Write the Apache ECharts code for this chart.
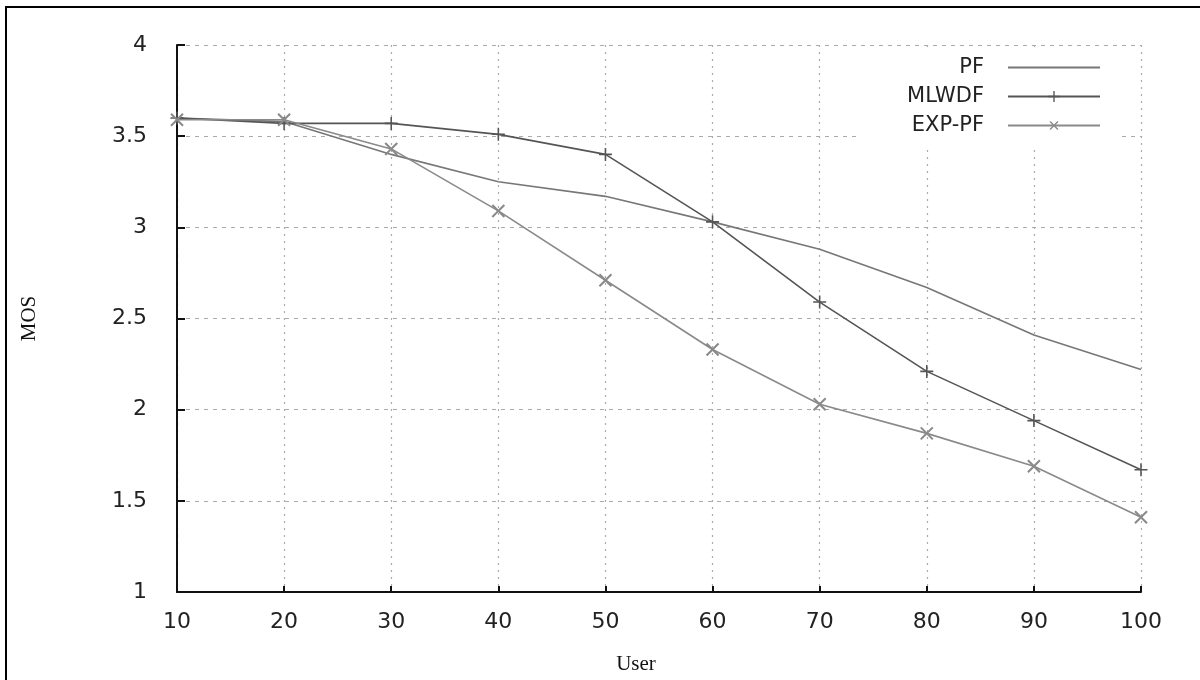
<!DOCTYPE html>
<html>
<head>
<meta charset="utf-8">
<script src="https://cdn.jsdelivr.net/npm/echarts@6/dist/echarts.min.js"></script>
<style>
  html, body { margin: 0; padding: 0; background: #fff; }
  #chart { width: 1200px; height: 680px; }
</style>
</head>
<body>
<div id="chart"></div>
<script>
// number of users on the x axis
const users = [10, 20, 30, 40, 50, 60, 70, 80, 90, 100];
// MOS values
const pf = [3.60, 3.58, 3.40, 3.25, 3.17, 3.03, 2.88, 2.67, 2.41, 2.22];
const mlwdf = [3.60, 3.57, 3.57, 3.51, 3.40, 3.03, 2.59, 2.21, 1.94, 1.67];
const expPf = [3.59, 3.59, 3.43, 3.09, 2.71, 2.33, 2.03, 1.87, 1.69, 1.41];

const pairs = vals => users.map((u, i) => [u, vals[i]]);

// thin filled plus, rotated 45deg it becomes the x marker
const plus = 'path://M4.4,0h1.2v4.4h4.4v1.2h-4.4v4.4h-1.2v-4.4h-4.4v-1.2h4.4z';

const chart = echarts.init(document.getElementById('chart'));

const legendBase = {
  orient: 'vertical',
  right: 94,
  itemWidth: 92,
  itemHeight: 14,
  itemGap: 0,
  align: 'right',
  textStyle: { fontFamily: 'DejaVu Sans', fontSize: 21, color: '#222', padding: [0, 19, 0, 0] },
  selectedMode: false
};

chart.setOption({
  animation: false,
  backgroundColor: '#fff',
  grid: { left: 177, right: 59, top: 45, bottom: 88 },
  legend: [
    Object.assign({}, legendBase, { top: 52, data: [{ name: 'PF', itemStyle: { opacity: 0 } }] }),
    Object.assign({}, legendBase, { top: 81, data: ['MLWDF'] }),
    Object.assign({}, legendBase, { top: 110, data: ['EXP-PF'] })
  ],
  graphic: [
    {
      type: 'rect',
      z: 1,
      shape: { x: 858, y: 47, width: 262, height: 101 },
      style: { fill: '#fff' }
    },
    {
      type: 'rect',
      z: 10,
      shape: { x: 6, y: 7, width: 1400, height: 800 },
      style: { fill: 'none', stroke: '#000', lineWidth: 2 }
    }
  ],
  xAxis: {
    type: 'value',
    min: 10,
    max: 100,
    interval: 10,
    name: 'User',
    nameLocation: 'middle',
    nameGap: 62,
    nameTextStyle: { fontFamily: 'Liberation Serif', fontSize: 21, color: '#111', padding: [0, 46, 0, 0] },
    axisLine: { lineStyle: { color: '#111', width: 2 } },
    axisTick: { inside: true, length: 6, lineStyle: { color: '#111', width: 2 } },
    axisLabel: { margin: 19, fontFamily: 'DejaVu Sans', fontSize: 22, color: '#222' },
    splitLine: { show: true, lineStyle: { color: '#aaa', type: [2, 5], width: 1.2 } }
  },
  yAxis: {
    type: 'value',
    min: 1,
    max: 4,
    interval: 0.5,
    name: 'MOS',
    nameLocation: 'middle',
    nameGap: 137,
    nameRotate: 90,
    nameTextStyle: { fontFamily: 'Liberation Serif', fontSize: 21, color: '#111' },
    axisLine: { show: true, lineStyle: { color: '#111', width: 2 } },
    axisTick: { show: true, inside: true, length: 8, lineStyle: { color: '#111', width: 2 } },
    axisLabel: { margin: 30, fontFamily: 'DejaVu Sans', fontSize: 22, color: '#222' },
    splitLine: { show: true, lineStyle: { color: '#aaa', type: [4, 5], width: 1.2 } }
  },
  series: [
    {
      name: 'PF',
      type: 'line',
      data: pairs(pf),
      symbol: 'none',
      color: '#777',
      lineStyle: { color: '#777', width: 1.6 },
      z: 3
    },
    {
      name: 'MLWDF',
      type: 'line',
      data: pairs(mlwdf),
      symbol: plus,
      symbolSize: 13,
      color: '#555',
      lineStyle: { color: '#555', width: 1.6 },
      z: 3
    },
    {
      name: 'EXP-PF',
      type: 'line',
      data: pairs(expPf),
      symbol: plus,
      symbolSize: 17,
      symbolRotate: 45,
      color: '#8a8a8a',
      lineStyle: { color: '#8a8a8a', width: 1.6 },
      z: 3
    }
  ]
});
</script>
</body>
</html>
